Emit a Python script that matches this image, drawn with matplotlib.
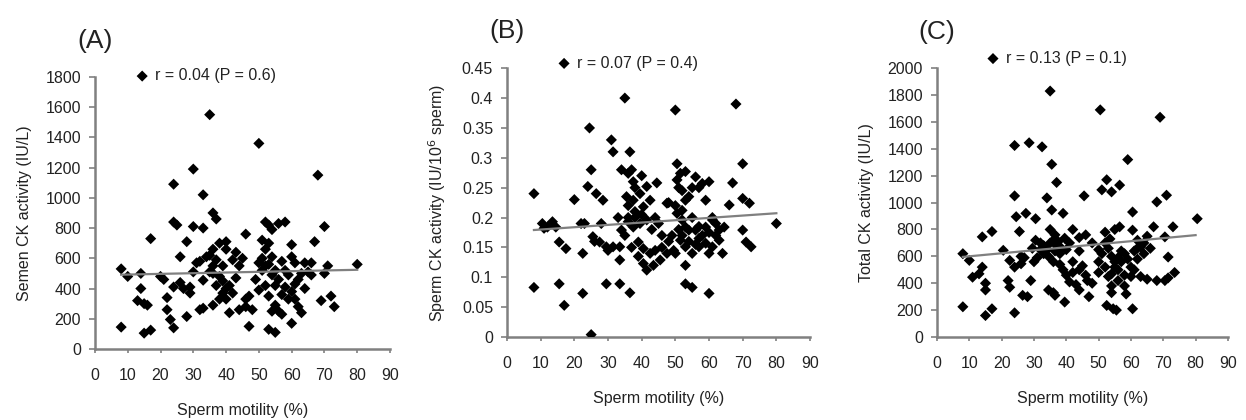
import matplotlib
matplotlib.use("Agg")
import matplotlib.pyplot as plt
import numpy as np

plt.rcParams["font.family"] = ["Liberation Sans", "DejaVu Sans"]

# ---- panel A: semen CK activity vs sperm motility ----
semen_pts = [
    (35, 1550), (50, 1360), (30, 1190), (24, 1090), (33, 1020), (68, 1150),
    (36, 900), (37, 860), (24, 840), (25, 820), (30, 810), (33, 800), (17, 730),
    (28, 710), (46, 760), (52, 840), (53, 820), (54, 790), (58, 840), (56, 830),
    (70, 810), (67, 710), (60, 690), (26, 610),
    (8, 530), (10, 480), (14, 500), (14, 400), (13, 320), (15, 300), (16, 290),
    (8, 145), (15, 105), (17, 125), (20, 480), (21, 460), (22, 340), (22, 260),
    (23, 195), (24, 140), (24, 410), (27, 400), (29, 410), (29, 370), (28, 215),
    (32, 260), (33, 270), (36, 290), (33, 455), (31, 570), (30, 510), (26, 440),
    (34, 610), (36, 660), (38, 700), (40, 660), (37, 590), (39, 550), (42, 590),
    (44, 550), (36, 550), (38, 480), (41, 420), (42, 370), (39, 370), (40, 330),
    (41, 240), (44, 260), (46, 330), (47, 350), (46, 280), (48, 260), (47, 150),
    (38, 330), (37, 420), (35, 620), (40, 710), (43, 640), (45, 600), (39, 450),
    (40, 400), (43, 470), (35, 510), (32, 580), (36, 500),
    (51, 720), (52, 660), (51, 600), (53, 560), (51, 520), (54, 490), (52, 420),
    (55, 420), (53, 350), (55, 290), (54, 250), (56, 250), (57, 230), (53, 130),
    (55, 110), (50, 390), (49, 460), (52, 550), (54, 610), (50, 570), (53, 700),
    (57, 580), (56, 460), (58, 410), (57, 360), (55, 520),
    (60, 170), (61, 430), (63, 500), (64, 570), (61, 570), (66, 570), (59, 330),
    (62, 280), (63, 240), (69, 320), (72, 350), (73, 280), (70, 500), (71, 550),
    (80, 560), (62, 460), (65, 510), (60, 380), (58, 520), (64, 400), (61, 330),
    (59, 490), (66, 490), (60, 610),
]

# ---- panel B: sperm CK activity (IU/10^6 sperm) ----
sperm_pts = [
    (35, 0.40), (50, 0.38), (68, 0.39), (24.5, 0.35), (31, 0.33), (31.5, 0.31),
    (36.5, 0.31), (25, 0.28), (34, 0.28), (36, 0.274), (37.5, 0.26), (44.5, 0.258),
    (8, 0.24), (20, 0.23), (24, 0.252), (26.5, 0.24), (28.5, 0.229), (35.5, 0.235),
    (37.5, 0.229), (39.5, 0.24), (40.5, 0.218), (41.5, 0.252), (42.5, 0.229),
    (47.5, 0.224), (50.5, 0.29), (51.5, 0.274), (50.5, 0.263), (53, 0.277),
    (56, 0.268), (58, 0.257), (60, 0.26), (67, 0.258), (70, 0.29), (66, 0.221),
    (70, 0.232), (72, 0.224), (53, 0.229), (54, 0.235), (52, 0.212), (59, 0.229),
    (10.5, 0.19), (12, 0.184), (13.5, 0.193), (14.5, 0.184), (11, 0.182),
    (22, 0.19), (28, 0.19), (34, 0.179), (36, 0.193), (37.5, 0.184), (39.5, 0.19),
    (41.5, 0.196), (50.5, 0.207), (52, 0.196), (53, 0.184), (54, 0.179),
    (56, 0.179), (59, 0.184), (61, 0.196), (63, 0.179), (64.5, 0.184), (70, 0.179),
    (80, 0.19), (15.5, 0.159), (17.5, 0.148), (22.5, 0.14), (25.5, 0.168),
    (27.5, 0.159), (29.5, 0.151), (31.5, 0.151), (33.5, 0.151), (33.5, 0.129),
    (39, 0.159), (40.5, 0.148), (42.5, 0.14), (40.5, 0.123), (41.5, 0.112),
    (43.5, 0.12), (45.5, 0.129), (47.5, 0.14), (49.5, 0.145), (51.5, 0.162),
    (53, 0.151), (55, 0.14), (57, 0.151), (53, 0.12), (59, 0.157), (61, 0.151),
    (63, 0.162), (64, 0.14), (71, 0.159), (72.5, 0.151), (8, 0.083), (15.5, 0.089),
    (22.5, 0.073), (17, 0.053), (29.5, 0.089), (33.5, 0.089), (36.5, 0.074),
    (53, 0.089), (55, 0.083), (60, 0.073), (25, 0.004),
    (36, 0.22), (38, 0.21), (38, 0.2), (40, 0.205), (36, 0.2), (44, 0.2),
    (45, 0.19), (46, 0.17), (48, 0.16), (50, 0.14), (49, 0.17), (51, 0.18),
    (52, 0.17), (54, 0.16), (56, 0.155), (57, 0.165), (58, 0.17), (60, 0.175),
    (62, 0.19), (61, 0.2), (52, 0.245), (51, 0.25), (50, 0.22), (55, 0.2),
    (55, 0.25), (57, 0.25), (62, 0.17), (60, 0.14), (46, 0.15), (44, 0.145),
    (39, 0.135), (37, 0.15), (35, 0.17), (33, 0.2), (38, 0.25), (40, 0.27),
    (37, 0.28), (23, 0.19), (26, 0.16), (30, 0.145), (43, 0.18), (48, 0.225),
    (57, 0.185),
]

# ---- panel C: total CK activity ----
total_pts = [
    (35, 1830), (50.5, 1690), (69, 1635), (24, 1425), (28.5, 1445), (32.5, 1415),
    (35.5, 1285), (59, 1320), (37, 1150), (52.5, 1170), (51, 1095), (54, 1080),
    (56.5, 1130), (24, 1050), (34, 1035), (45.5, 1050), (68, 1005), (71, 1055),
    (24.5, 895), (27.5, 920), (30.5, 880), (35.5, 945), (39, 920), (60.5, 930),
    (14, 745), (17, 785), (25.5, 785), (30.5, 720),
    (35, 800), (36.5, 760), (37.5, 710), (39.5, 735), (38.5, 660), (36.5, 640),
    (34.5, 600), (42, 800), (44, 740), (46, 760), (52, 780), (53.5, 730),
    (55, 800), (56.5, 820), (60.5, 795), (67, 820), (73, 820), (80.5, 880),
    (8, 620), (10, 570), (11, 445), (13, 470), (14, 520), (15, 400), (15, 350),
    (20.5, 645), (22.5, 570), (24, 520), (26, 545), (27, 590), (29, 420),
    (28, 300), (31, 590), (29.5, 660), (32, 650), (34.5, 350), (36, 330),
    (36.5, 310), (40, 460), (42, 480), (41, 410), (43, 390), (44, 350),
    (39.5, 260), (47, 300), (46, 460), (46.5, 420), (50, 560), (51, 620),
    (52, 520), (53, 450), (54, 380), (54, 330), (55, 520), (56, 590), (57, 640),
    (58, 460), (52.5, 235), (54.5, 210), (55.5, 200), (60.5, 210), (58.5, 320),
    (62, 720), (63, 670), (64, 620), (62, 580), (65, 750), (61, 500), (63, 450),
    (65, 430), (68, 420), (70.5, 420), (71.5, 440), (73.5, 480), (71.5, 595),
    (8, 225), (15, 160), (17, 210), (24, 180), (26.5, 310), (70.5, 745),
    (22, 420), (22.5, 370),
    (33, 680), (35, 700), (37, 680), (36, 720), (34, 650), (38, 620), (40, 650),
    (41, 700), (44, 640), (33, 620), (32, 700), (48, 700), (50, 650), (52, 700),
    (53, 660), (54, 600), (55, 560), (56, 500), (57, 560), (58, 620), (59, 580),
    (60, 520), (61, 640), (62, 660), (64, 700), (66, 660), (50, 480), (54, 470),
    (56, 420), (58, 380), (60, 450), (39, 500), (44, 500), (45, 530), (48, 400),
    (30, 560), (26, 600), (42, 560), (36, 560), (38, 540),
]

# trend lines: (intercept, slope, x from, x to)
trend_a = (488, 0.45, 8, 80)
trend_b = (0.176, 0.00039, 8, 80)
trend_c = (578, 2.25, 8, 80)

panel_tags = ["(A)", "(B)", "(C)"]
legend_texts = ["r = 0.04 (P = 0.6)", "r = 0.07 (P = 0.4)", "r = 0.13 (P = 0.1)"]
ylabels = ["Semen CK activity (IU/L)", "Sperm CK activity (IU/10$^6$ sperm)",
           "Total CK activity (IU/L)"]
xticks = list(range(0, 100, 10))
yticks_a = list(range(0, 2000, 200))
yticks_b = [0, 0.05, 0.1, 0.15, 0.2, 0.25, 0.3, 0.35, 0.4, 0.45]
ytick_labels_b = ["0", "0.05", "0.1", "0.15", "0.2", "0.25", "0.3", "0.35", "0.4", "0.45"]
yticks_c = list(range(0, 2200, 200))

GREY = "#808080"
TXT = "#222222"

fig = plt.figure(figsize=(12.46, 4.2), dpi=100)
boxes = [(0.0762, 0.169, 0.2368, 0.648),
         (0.4069, 0.1976, 0.2432, 0.640),
         (0.7520, 0.1976, 0.2335, 0.640)]
# (tag y, legend anchor x, legend anchor y) in axes fraction
deco = [(1.13, 0.133, 1.004), (1.14, 0.162, 1.019), (1.135, 0.165, 1.037)]

panels = [(semen_pts, trend_a, yticks_a, None),
          (sperm_pts, trend_b, yticks_b, ytick_labels_b),
          (total_pts, trend_c, yticks_c, None)]

for i, (pts, trend, yt, ytl) in enumerate(panels):
    ax = fig.add_axes(boxes[i])
    xy = np.array(pts, dtype=float)
    ax.scatter(xy[:, 0], xy[:, 1], marker="D", s=32, color="black",
               edgecolors="none", zorder=3, label=legend_texts[i])
    b0, b1, x0, x1 = trend
    tx = np.array([x0, x1], dtype=float)
    ax.plot(tx, b0 + b1 * tx, color=GREY, lw=1.6, zorder=4)

    ax.set_xlim(0, 90)
    ax.set_ylim(yt[0], yt[-1])
    ax.set_xticks(xticks)
    ax.set_yticks(yt)
    if ytl:
        ax.set_yticklabels(ytl)
    for s in ("top", "right"):
        ax.spines[s].set_visible(False)
    for s in ("left", "bottom"):
        ax.spines[s].set_color(GREY)
        ax.spines[s].set_linewidth(1.8)
    ax.tick_params(axis="x", direction="out", length=3, width=1.2, color=GREY,
                   labelsize=11.5, labelcolor=TXT, pad=11)
    ax.tick_params(axis="y", direction="out", length=4, width=1.2, color=GREY,
                   labelsize=11.5, labelcolor=TXT, pad=6)
    ax.set_xlabel("Sperm motility (%)", fontsize=11.5, color=TXT, labelpad=14)
    ax.set_ylabel(ylabels[i], fontsize=11.5, color=TXT, labelpad=10)

    ty, lx, ly = deco[i]
    ax.text(0, ty, panel_tags[i], transform=ax.transAxes, ha="center",
            va="center", fontsize=19, color=TXT)
    ax.legend(loc="center left", bbox_to_anchor=(lx, ly), frameon=False,
              fontsize=11.5, handlelength=1.0, handletextpad=0.3,
              borderpad=0, borderaxespad=0, labelcolor=TXT)

fig.savefig("out.png", dpi=100)
